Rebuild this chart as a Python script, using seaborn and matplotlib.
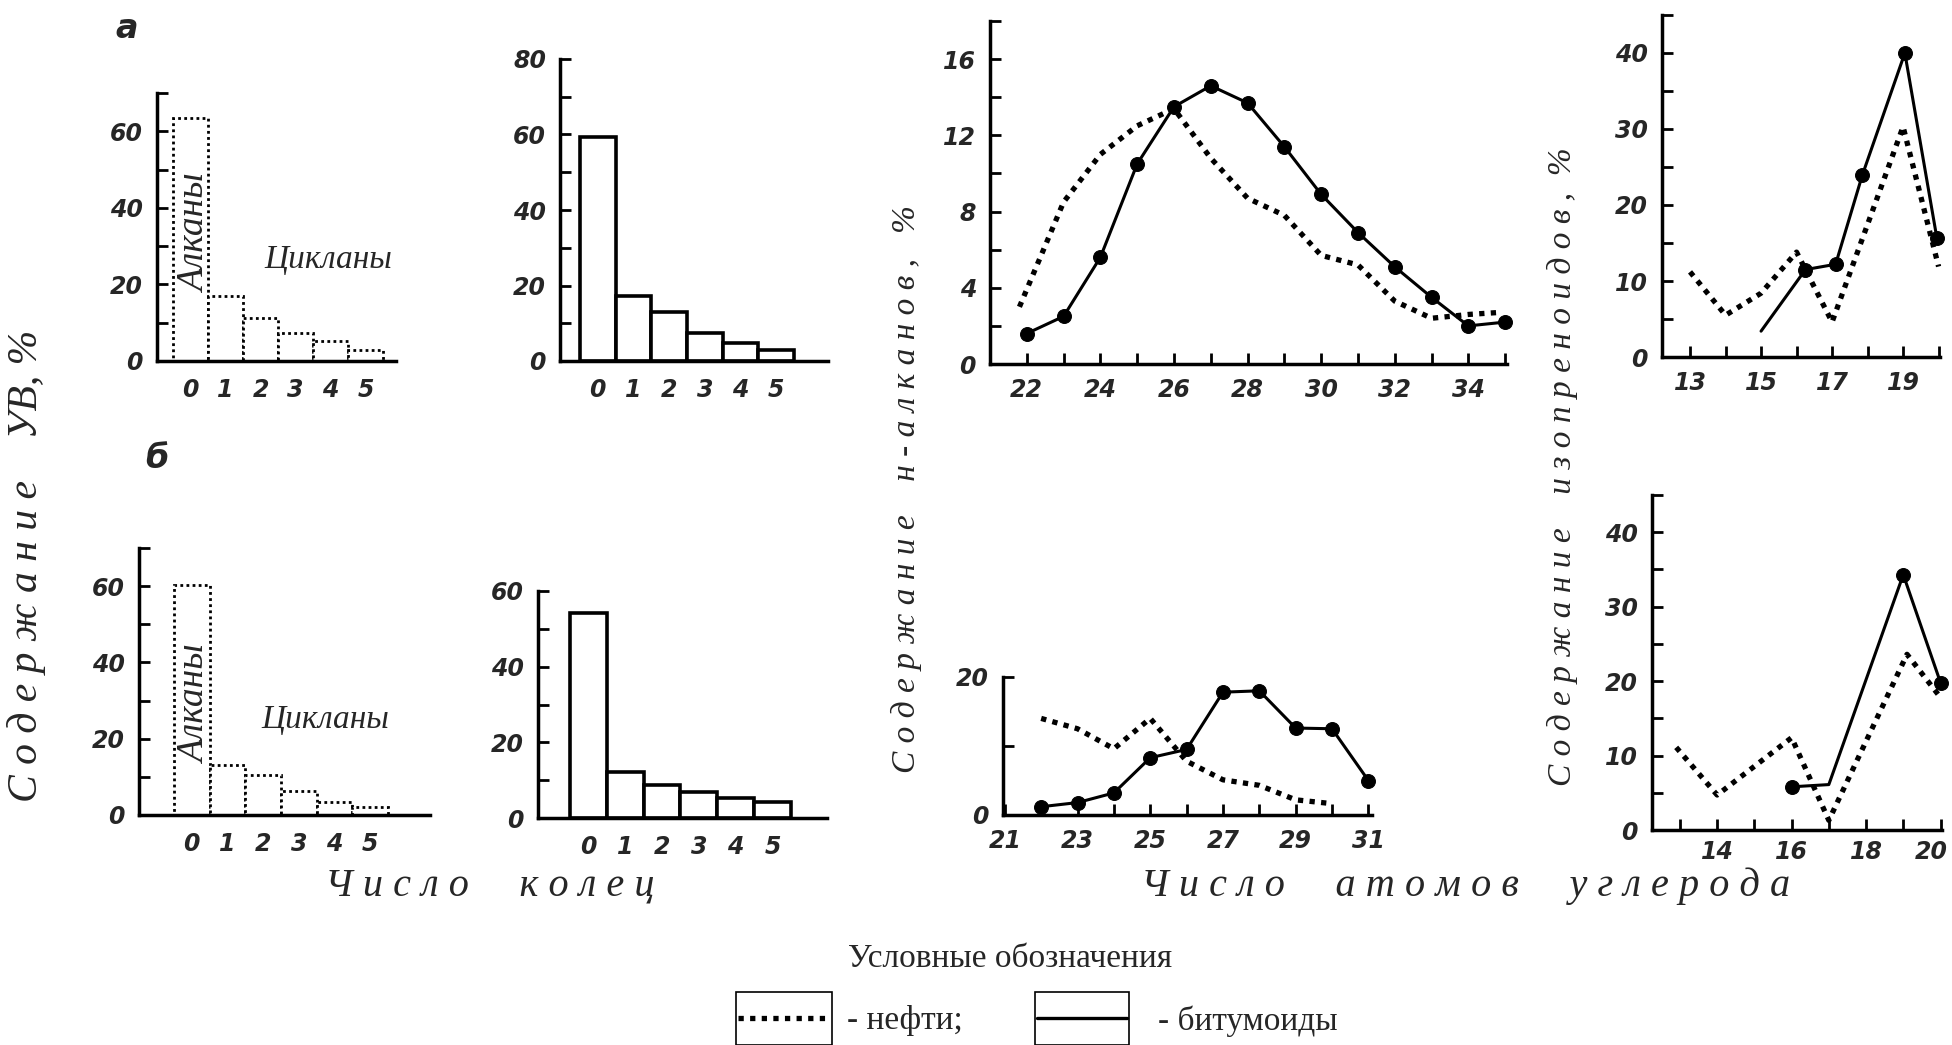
import numpy as np
import pandas as pd
import matplotlib
matplotlib.use("Agg")
import matplotlib.pyplot as plt
import seaborn as sns
from matplotlib.patches import Rectangle
from matplotlib.lines import Line2D
from matplotlib.transforms import ScaledTranslation

# ---------------- data ----------------
rings = [0, 1, 2, 3, 4, 5]
ring_labels = ["0", "1", "2", "3", "4", "5"]
oil_rings_a = [63.5, 17.0, 11.3, 7.4, 5.2, 2.8]
bit_rings_a = [59.4, 17.3, 12.9, 7.4, 4.7, 2.9]
oil_rings_b = [60.3, 13.2, 10.6, 6.2, 3.5, 2.2]
bit_rings_b = [54.1, 12.2, 8.6, 6.9, 5.4, 4.1]

nalk_bit_x_a = [22, 23, 24, 25, 26, 27, 28, 29, 30, 31, 32, 33, 34, 35]
nalk_bit_y_a = [1.6, 2.5, 5.6, 10.5, 13.5, 14.6, 13.7, 11.4, 8.9, 6.9, 5.1, 3.5, 2.0, 2.2]
nalk_oil_x_a = [21.8, 23, 24, 25, 26, 27, 28, 29, 30, 31, 32, 33, 34, 34.8]
nalk_oil_y_a = [3.0, 8.5, 11.0, 12.5, 13.4, 10.8, 8.7, 7.8, 5.7, 5.2, 3.3, 2.4, 2.6, 2.7]

iso_bit_x_a = [15.0, 16.25, 17.1, 17.85, 19.05, 19.95]
iso_bit_y_a = [3.4, 11.5, 12.2, 23.9, 40.0, 15.7]
iso_oil_x_a = [13, 14, 15, 16, 17, 19, 20]
iso_oil_y_a = [11.2, 5.5, 8.4, 13.8, 4.6, 30.3, 11.9]

nalk_bit_x_b = [22, 23, 24, 25, 26, 27, 28, 29, 30, 31]
nalk_bit_y_b = [1.2, 1.8, 3.2, 8.3, 9.5, 17.8, 18.0, 12.6, 12.5, 5.0]
nalk_oil_x_b = [22, 23, 24, 25, 26, 27, 28, 29, 29.9]
nalk_oil_y_b = [14.0, 12.5, 9.6, 14.0, 7.8, 5.1, 4.3, 2.2, 1.7]

iso_bit_x_b = [16, 17, 19, 20]
iso_bit_y_b = [5.8, 6.1, 34.3, 19.8]
iso_oil_x_b = [12.9, 14, 16, 17, 19.1, 20]
iso_oil_y_b = [11.1, 4.7, 12.4, 1.3, 23.6, 17.8]

# ---------------- style ----------------
sns.set_theme(style="ticks")
plt.rcParams["font.family"] = ["Liberation Serif", "DejaVu Serif"]
plt.rcParams["axes.linewidth"] = 2.5

W, H = 1952, 1045
fig = plt.figure(figsize=(W / 100, H / 100), dpi=100)
fig.patch.set_facecolor("white")

TICKFONT = dict(family="DejaVu Sans", fontweight="bold", fontstyle="italic", fontsize=17)
DOT = (0, (1, 1.2))


def add_ax(l, t, r, b):
    ax = fig.add_axes([l / W, 1 - b / H, (r - l) / W, (b - t) / H])
    ax.set_facecolor("none")
    sns.despine(ax=ax)
    for s in ("left", "bottom"):
        ax.spines[s].set_linewidth(2.5)
        ax.spines[s].set_color("black")
    ax.tick_params(direction="in", length=8, width=2, color="black", pad=10)
    return ax


def set_y(ax, ymax, step, label_step):
    ticks = np.arange(0, ymax + 0.01, step)
    labels = []
    for t in ticks:
        q = t / label_step
        labels.append(f"{t:g}" if abs(q - round(q)) < 1e-6 else "")
    ax.set_ylim(0, ymax)
    ax.set_yticks(ticks, labels=labels, **TICKFONT)


def bar_panel(ax, vals, dotted, xl, xr, ymax, ystep_lab):
    sns.barplot(x=rings, y=vals, ax=ax, color="white", saturation=1, width=1,
                edgecolor="black", linewidth=2.0 if dotted else 2.6,
                linestyle=DOT if dotted else "-", errorbar=None)
    ax.set_xlim(xl, xr)
    ax.set_xticks(range(len(rings)), labels=ring_labels, **TICKFONT)
    ax.tick_params(axis="x", length=0, pad=12)
    set_y(ax, ymax, 10, ystep_lab)
    ax.set_xlabel("")
    ax.set_ylabel("")


def line_panel(ax, xo, yo, xb, yb, markevery=None):
    sns.lineplot(x=xo, y=yo, ax=ax, color="black", linewidth=3.8, linestyle=DOT,
                 estimator=None, sort=False, dash_capstyle="butt", clip_on=False)
    kw = dict(marker="o", markersize=10, markeredgecolor="black", markerfacecolor="black")
    if markevery is not None:
        kw["markevery"] = markevery
    sns.lineplot(x=xb, y=yb, ax=ax, color="black", linewidth=2.2, estimator=None, sort=False,
                 clip_on=False, **kw)
    ax.set_xlabel("")
    ax.set_ylabel("")


# --- a1 ---
ax = add_ax(157, 93, 396, 361)
bar_panel(ax, oil_rings_a, True, -0.96, 5.87, 70, 20)
# --- a2 ---
ax = add_ax(560, 59, 828, 361)
bar_panel(ax, bit_rings_a, False, -1.06, 6.45, 80, 20)
# --- b1 ---
ax = add_ax(139, 548, 430, 815)
bar_panel(ax, oil_rings_b, True, -1.48, 6.68, 70, 20)
# --- b2 ---
ax = add_ax(538, 591, 827, 818)
bar_panel(ax, bit_rings_b, False, -1.37, 6.48, 60, 20)

# --- n-alkanes a ---
ax = add_ax(990, 21, 1507, 364)
line_panel(ax, nalk_oil_x_a, nalk_oil_y_a, nalk_bit_x_a, nalk_bit_y_a)
ax.set_xlim(21.0, 35.05)
xt = list(range(22, 36))
ax.set_xticks(xt, labels=[str(t) if t % 2 == 0 and t < 35 else "" for t in xt], **TICKFONT)
set_y(ax, 18, 2, 4)

# --- isoprenoids a ---
ax = add_ax(1662, 15, 1940, 357)
line_panel(ax, iso_oil_x_a, iso_oil_y_a, iso_bit_x_a, iso_bit_y_a, markevery=[1, 2, 3, 4, 5])
ax.set_xlim(12.21, 20.04)
xt = list(range(13, 21))
ax.set_xticks(xt, labels=[str(t) if t % 2 == 1 else "" for t in xt], **TICKFONT)
set_y(ax, 45, 5, 10)

# --- n-alkanes b ---
ax = add_ax(1003, 677, 1372, 815)
line_panel(ax, nalk_oil_x_b, nalk_oil_y_b, nalk_bit_x_b, nalk_bit_y_b)
ax.set_xlim(20.95, 31.1)
xt = list(range(21, 32))
ax.set_xticks(xt, labels=[str(t) if t % 2 == 1 else "" for t in xt], **TICKFONT)
set_y(ax, 20, 10, 20)

# --- isoprenoids b ---
ax = add_ax(1652, 495, 1942, 830)
line_panel(ax, iso_oil_x_b, iso_oil_y_b, iso_bit_x_b, iso_bit_y_b, markevery=[0, 2, 3])
ax.set_xlim(12.25, 20.04)
xt = list(range(13, 21))
ax.set_xticks(xt, labels=[str(t) if t % 2 == 0 else "" for t in xt], **TICKFONT)
ax.tick_params(axis="x", pad=7)
set_y(ax, 45, 5, 10)
last = ax.get_xticklabels()[-1]
last.set_transform(last.get_transform() + ScaledTranslation(-0.09, 0, fig.dpi_scale_trans))


# ---------------- texts ----------------
def ftext(x, y, s, **kw):
    fig.text(x / W, 1 - y / H, s, ha="center", va="center", **kw)


SERIF_I = dict(family="Liberation Serif", fontstyle="italic")
ftext(127, 28, "а", family="DejaVu Sans", fontweight="bold", fontstyle="italic", fontsize=24)
ftext(157, 458, "б", family="DejaVu Sans", fontweight="bold", fontstyle="italic", fontsize=24)

ftext(328, 260, "Цикланы", fontsize=24, **SERIF_I)
ftext(196, 234, "Алканы", fontsize=27, rotation=90, **SERIF_I)
ftext(325, 720, "Цикланы", fontsize=24, **SERIF_I)
ftext(196, 705, "Алканы", fontsize=27, rotation=90, **SERIF_I)

ftext(27, 566, "С о д е р ж а н и е    УВ, %", fontsize=30, rotation=90, **SERIF_I)
ftext(906, 489, "С о д е р ж а н и е    н - а л к а н о в ,   %", fontsize=24, rotation=90, **SERIF_I)
ftext(1562, 467, "С о д е р ж а н и е    и з о п р е н о и д о в ,  %", fontsize=24, rotation=90, **SERIF_I)
ftext(490, 886, "Ч и с л о     к о л е ц", fontsize=29, **SERIF_I)
ftext(1466, 886, "Ч и с л о     а т о м о в     у г л е р о д а", fontsize=29, **SERIF_I)

# legend
ftext(1010, 959, "Условные обозначения", fontsize=24, family="Liberation Serif")
fig.text(847 / W, 1 - 1021 / H, "- нефти;", ha="left", va="center", fontsize=24, family="Liberation Serif")
fig.text(1158 / W, 1 - 1021 / H, "- битумоиды", ha="left", va="center", fontsize=24, family="Liberation Serif")
for (l, r), ls, lw in (((736, 832), DOT, 3.8), ((1035, 1129), "-", 2.4)):
    fig.patches.append(Rectangle((l / W, 1 - 1045 / H), (r - l) / W, (1045 - 992) / H,
                                 transform=fig.transFigure, fill=False, edgecolor="black", linewidth=1.2))
    fig.lines.append(Line2D([(l + 2) / W, (r - 2) / W], [1 - 1018 / H, 1 - 1018 / H],
                            transform=fig.transFigure, color="black", linewidth=lw, linestyle=ls,
                            dash_capstyle="butt"))

fig.savefig("out.png", dpi=100, facecolor="white")
